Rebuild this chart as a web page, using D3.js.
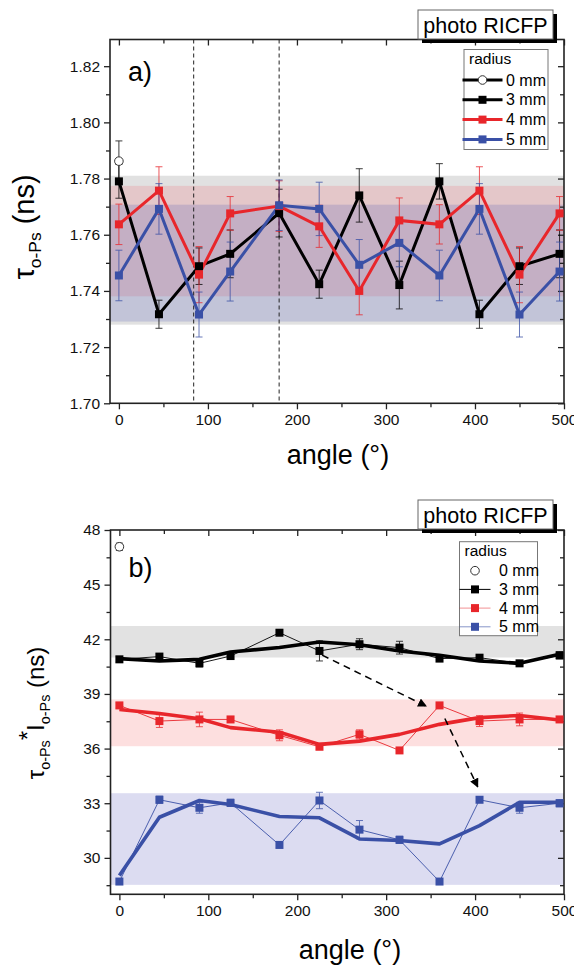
<!DOCTYPE html>
<html>
<head>
<meta charset="utf-8">
<script src="https://cdn.jsdelivr.net/npm/d3@7"></script>
<style>
  body { margin: 0; background: #fff; }
  svg { font-family: "Liberation Sans", Arial, sans-serif; display: block; }
</style>
</head>
<body>
<svg width="574" height="966"></svg>
<script>
// angles where the positron lifetimes were measured
var angles = [0, 45, 90, 125, 180, 225, 270, 315, 360, 405, 450, 495];
var xTicks = [0, 100, 200, 300, 400, 500];

// a) tau o-Ps (ns)
var tau0 = [1.7862], tau0Err = [0.0072];
var tau3 = [1.779, 1.7317, 1.7488, 1.7532, 1.7677, 1.7424, 1.774, 1.7421, 1.779, 1.7317, 1.7488, 1.7532];
var tau3Err = [0.006, 0.005, 0.0065, 0.0085, 0.0085, 0.005, 0.0095, 0.0085, 0.0063, 0.005, 0.0065, 0.0085];
var tau4 = [1.7637, 1.7757, 1.7458, 1.7676, 1.7702, 1.763, 1.74, 1.7651, 1.7637, 1.7757, 1.7458, 1.7676];
var tau4Err = [0.0072, 0.0085, 0.010, 0.006, 0.009, 0.0075, 0.0085, 0.008, 0.007, 0.0085, 0.010, 0.006];
var tau5 = [1.7455, 1.7692, 1.7316, 1.7469, 1.7705, 1.7692, 1.7493, 1.7571, 1.7455, 1.7692, 1.7316, 1.7469];
var tau5Err = [0.009, 0.009, 0.008, 0.0105, 0.009, 0.0095, 0.009, 0.0085, 0.009, 0.009, 0.008, 0.0105];
var tauBands = [[1.728, 1.781], [1.7381, 1.7774], [1.7291, 1.7707]];
var tauMarkers = [84, 180];
var tauTicks = [1.70, 1.72, 1.74, 1.76, 1.78, 1.80, 1.82];

// b) tau*I o-Ps (ns)
var prod0 = [47.08], prod0Err = [0.2];
var prod3 = [40.9, 41.05, 40.68, 41.08, 42.36, 41.36, 41.73, 41.54, 40.94, 40.99, 40.68, 41.12];
var prod3Err = [0.15, 0.15, 0.2, 0.15, 0.15, 0.55, 0.3, 0.35, 0.15, 0.15, 0.15, 0.2];
var prod3Smooth = [40.94, 40.81, 40.9, 41.3, 41.55, 41.85, 41.7, 41.36, 41.12, 40.81, 40.68, 41.18];
var prod4 = [38.37, 37.51, 37.6, 37.6, 36.73, 36.1, 36.78, 35.9, 38.37, 37.51, 37.6, 37.6];
var prod4Err = [0.15, 0.35, 0.4, 0.15, 0.3, 0.15, 0.25, 0.15, 0.15, 0.3, 0.35, 0.15];
var prod4Smooth = [38.15, 37.93, 37.64, 37.15, 36.9, 36.23, 36.41, 36.78, 37.33, 37.7, 37.82, 37.57];
var prod5 = [28.7, 33.19, 32.75, 33.02, 30.71, 33.15, 31.55, 30.99, 28.7, 33.19, 32.75, 33.0];
var prod5Err = [0.15, 0.2, 0.3, 0.2, 0.15, 0.45, 0.5, 0.2, 0.15, 0.15, 0.3, 0.2];
var prod5Smooth = [29.03, 32.23, 33.15, 32.93, 32.27, 32.2, 31.04, 30.95, 30.77, 31.77, 33.05, 33.05];
var prodBands = [[41.0, 42.73], [36.13, 38.7], [28.52, 33.55]];
var prodArrows = [[[228, 41.13], [345, 38.33]], [[366, 37.65], [403, 33.9]]];
var prodTicks = [30, 33, 36, 39, 42, 45, 48];

var radii = ["0 mm", "3 mm", "4 mm", "5 mm"];
var colors = ["#000", "#000", "#e8262b", "#3a50a6"];
var bandFill = ["rgba(200,200,200,0.55)", "rgba(240,110,120,0.22)", "rgba(70,80,180,0.2)"];

var svg = d3.select("svg");

svg.append("defs").append("marker")
    .attr("id", "head")
    .attr("viewBox", "0 0 10 10")
    .attr("refX", 9).attr("refY", 5)
    .attr("markerWidth", 9).attr("markerHeight", 9)
    .attr("markerUnits", "userSpaceOnUse")
    .attr("orient", "auto")
  .append("path")
    .attr("d", "M0,0L10,5L0,10z")
    .attr("fill", "#000");

function drawPanel(p) {
  var x = d3.scaleLinear().domain([-10, 500]).range([p.left, p.right]);
  var y = d3.scaleLinear().domain(p.yDomain).range([p.bottom, p.top]);
  var g = svg.append("g");

  // shaded ranges
  g.selectAll(".band").data(p.bands).enter().append("rect")
    .attr("x", x(-10)).attr("width", x(500) - x(-10))
    .attr("y", d => y(d[1])).attr("height", d => y(d[0]) - y(d[1]))
    .attr("fill", (d, i) => p.bandColors[i]);

  (p.vlines || []).forEach(function(a) {
    g.append("line")
      .attr("x1", x(a)).attr("x2", x(a)).attr("y1", p.top).attr("y2", p.bottom)
      .attr("stroke", "#222").attr("stroke-width", 1).attr("stroke-dasharray", "4,3");
  });

  // axes
  var yMinor = p.yMinor;
  var ax = function(axis, vals, size) { return axis.tickValues(vals).tickSize(size).tickFormat(""); };
  var xMinor = [50, 150, 250, 350, 450];
  g.append("g").attr("transform", "translate(0," + p.bottom + ")")
    .call(d3.axisBottom(x).tickValues(xTicks).tickSize(6).tickPadding(5));
  g.append("g").attr("transform", "translate(0," + p.bottom + ")").call(ax(d3.axisBottom(x), xMinor, 4));
  g.append("g").attr("transform", "translate(0," + p.top + ")").call(ax(d3.axisBottom(x), xTicks, 6));
  g.append("g").attr("transform", "translate(0," + p.top + ")").call(ax(d3.axisBottom(x), xMinor, 4));
  g.append("g").attr("transform", "translate(" + p.left + ",0)")
    .call(d3.axisLeft(y).tickValues(p.yTicks).tickSize(6).tickPadding(4).tickFormat(p.fmt));
  g.append("g").attr("transform", "translate(" + p.left + ",0)").call(ax(d3.axisLeft(y), yMinor, 4));
  g.append("g").attr("transform", "translate(" + p.right + ",0)").call(ax(d3.axisLeft(y), p.yTicks, 6));
  g.append("g").attr("transform", "translate(" + p.right + ",0)").call(ax(d3.axisLeft(y), yMinor, 4));
  g.selectAll(".domain").remove();
  g.selectAll(".tick line").attr("stroke", "#222").attr("stroke-width", 1.3);
  g.selectAll(".tick text").attr("font-size", 15.5).attr("fill", "#111")
    .attr("font-family", "Liberation Sans, Arial, sans-serif");
  g.append("rect")
    .attr("x", p.left).attr("y", p.top).attr("width", p.right - p.left).attr("height", p.bottom - p.top)
    .attr("fill", "none").attr("stroke", "#222").attr("stroke-width", 1.6);

  var line = d3.line().x((d, i) => x(angles[i])).y(d => y(d));

  // error bars
  p.series.forEach(function(s) {
    var eg = g.append("g").attr("stroke", s.color).attr("stroke-width", 0.9).attr("opacity", 0.85);
    s.values.forEach(function(v, i) {
      var cx = x(angles[i]);
      eg.append("line").attr("x1", cx).attr("x2", cx).attr("y1", y(v - s.err[i])).attr("y2", y(v + s.err[i]));
      [v - s.err[i], v + s.err[i]].forEach(function(e) {
        eg.append("line").attr("x1", cx - 3.5).attr("x2", cx + 3.5).attr("y1", y(e)).attr("y2", y(e));
      });
    });
  });

  p.series.forEach(function(s) {
    if (s.values.length > 1) {
      g.append("path").datum(s.values).attr("d", line)
        .attr("fill", "none").attr("stroke", s.color).attr("stroke-width", p.rawWidth)
        .attr("stroke-linejoin", "miter");
    }
    if (s.smooth) {
      g.append("path").datum(s.smooth).attr("d", line)
        .attr("fill", "none").attr("stroke", s.color).attr("stroke-width", 3.6)
        .attr("stroke-linejoin", "round");
    }
  });

  p.series.forEach(function(s) {
    if (s.circle) {
      g.selectAll(null).data(s.values).enter().append("circle")
        .attr("cx", (d, i) => x(angles[i])).attr("cy", d => y(d)).attr("r", 4.3)
        .attr("fill", "#fff").attr("stroke", "#333").attr("stroke-width", 1);
    } else {
      g.selectAll(null).data(s.values).enter().append("rect")
        .attr("x", (d, i) => x(angles[i]) - 4).attr("y", d => y(d) - 4)
        .attr("width", 8).attr("height", 8).attr("fill", s.color);
    }
  });

  (p.arrows || []).forEach(function(a) {
    g.append("line")
      .attr("x1", x(a[0][0])).attr("y1", y(a[0][1]))
      .attr("x2", x(a[1][0])).attr("y2", y(a[1][1]))
      .attr("stroke", "#000").attr("stroke-width", 1.5).attr("stroke-dasharray", "7,5")
      .attr("marker-end", "url(#head)");
  });

  // panel letter
  g.append("text").attr("x", p.left + 18).attr("y", p.letterY)
    .attr("font-size", 27).text(p.letter);

  // "photo RICFP" tag
  var tb = p.tag;
  g.append("rect").attr("x", tb.x + 4).attr("y", tb.y + 4).attr("width", tb.w).attr("height", tb.h).attr("fill", "#000");
  g.append("rect").attr("x", tb.x).attr("y", tb.y).attr("width", tb.w).attr("height", tb.h)
    .attr("fill", "#fff").attr("stroke", "#666").attr("stroke-width", 1);
  g.append("text").attr("x", tb.x + tb.w / 2).attr("y", tb.y + 22.5).attr("text-anchor", "middle")
    .attr("font-size", 21.5).text("photo RICFP");

  // legend
  var lg = p.legend;
  g.append("rect").attr("x", lg.x).attr("y", lg.y).attr("width", lg.w).attr("height", lg.h)
    .attr("fill", "#fff").attr("stroke", "#777").attr("stroke-width", 1);
  g.append("text").attr("x", lg.x + 5).attr("y", lg.y + 14).attr("font-size", 15.5).text("radius");
  radii.forEach(function(r, i) {
    var cy = lg.rowY + i * lg.step;
    var s = p.series[i];
    if (lg.lineAll || i > 0) {
      g.append("line").attr("x1", lg.lx1).attr("x2", lg.lx2).attr("y1", cy).attr("y2", cy)
        .attr("stroke", s.color).attr("stroke-width", lg.lw).attr("opacity", lg.lineOpacity[i]);
    }
    var mx = (lg.lx1 + lg.lx2) / 2;
    if (i === 0) {
      g.append("circle").attr("cx", mx).attr("cy", cy).attr("r", 4.3)
        .attr("fill", "#fff").attr("stroke", "#333").attr("stroke-width", 1);
    } else {
      g.append("rect").attr("x", mx - 4).attr("y", cy - 4).attr("width", 8).attr("height", 8).attr("fill", s.color);
    }
    g.append("text").attr("x", lg.tx).attr("y", cy + 5.5).attr("font-size", 16).text(r);
  });

  // axis titles
  svg.append("text").attr("x", p.xLabelX).attr("y", p.xLabelY).attr("text-anchor", "middle")
    .attr("font-size", 27).text("angle (°)");
  var yl = svg.append("text")
    .attr("transform", "translate(" + p.yLabelX + "," + p.yLabelY + ") rotate(-90)")
    .attr("text-anchor", "middle").attr("font-size", p.yLabelSize);
  p.yLabel.forEach(function(part) {
    var t = yl.append("tspan").text(part.t);
    if (part.sub) t.attr("font-size", p.yLabelSize * 0.6).attr("dy", part.dy);
    if (part.dy && !part.sub) t.attr("dy", part.dy);
    if (part.size) t.attr("font-size", part.size);
  });
}

drawPanel({
  left: 110, right: 564, top: 39.5, bottom: 403.3,
  yDomain: [1.70, 1.8295], yTicks: tauTicks,
  yMinor: [1.71, 1.73, 1.75, 1.77, 1.79, 1.81],
  fmt: d3.format(".2f"),
  bands: tauBands, bandColors: bandFill,
  vlines: tauMarkers,
  rawWidth: 3,
  series: [
    {values: tau0, err: tau0Err, color: "#000", circle: true},
    {values: tau3, err: tau3Err, color: colors[1]},
    {values: tau4, err: tau4Err, color: colors[2]},
    {values: tau5, err: tau5Err, color: colors[3]}
  ],
  letter: "a)", letterY: 81,
  tag: {x: 418, y: 10, w: 135, h: 29},
  legend: {x: 464, y: 49.5, w: 84, h: 100, rowY: 80, step: 19.8,
           lx1: 462.5, lx2: 502.5, lw: 3, tx: 506, lineAll: true, lineOpacity: [1, 1, 1, 1]},
  xLabelX: 338, xLabelY: 464,
  yLabelX: 34, yLabelY: 227, yLabelSize: 29,
  yLabel: [{t: "τ"}, {t: "o-Ps", sub: true, dy: 7}, {t: " (ns)", dy: -7, size: 29}]
});

drawPanel({
  left: 110.5, right: 564, top: 530, bottom: 894.3,
  yDomain: [28, 48], yTicks: prodTicks,
  yMinor: [28.5, 31.5, 34.5, 37.5, 40.5, 43.5, 46.5],
  fmt: d3.format("d"),
  bands: prodBands, bandColors: ["#e2e2e2", "rgba(250,150,150,0.3)", "rgba(140,140,210,0.3)"],
  rawWidth: 0.9,
  arrows: prodArrows,
  series: [
    {values: prod0, err: prod0Err, color: "#000", circle: true},
    {values: prod3, err: prod3Err, color: colors[1], smooth: prod3Smooth},
    {values: prod4, err: prod4Err, color: colors[2], smooth: prod4Smooth},
    {values: prod5, err: prod5Err, color: colors[3], smooth: prod5Smooth}
  ],
  letter: "b)", letterY: 577,
  tag: {x: 418, y: 500, w: 135, h: 29},
  legend: {x: 459.5, y: 541.7, w: 78, h: 94, rowY: 570.7, step: 18.7,
           lx1: 459.5, lx2: 490.5, lw: 1, tx: 499, lineAll: false, lineOpacity: [1, 1, 0.5, 0.6]},
  xLabelX: 350, xLabelY: 959,
  yLabelX: 44, yLabelY: 713, yLabelSize: 24,
  yLabel: [{t: "τ"}, {t: "o-Ps", sub: true, dy: 6}, {t: "*", dy: -14, size: 24},
           {t: "I", dy: 8, size: 24}, {t: "o-Ps", sub: true, dy: 6}, {t: " (ns)", dy: -6, size: 24}]
});
</script>
</body>
</html>
